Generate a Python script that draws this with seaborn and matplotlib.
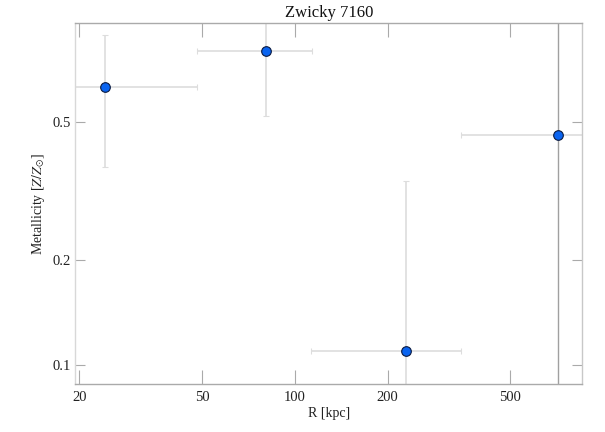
import numpy as np
import pandas as pd
import matplotlib
matplotlib.use("Agg")
import matplotlib.pyplot as plt
import seaborn as sns
from matplotlib.ticker import FixedLocator, FixedFormatter, NullLocator

# data
radius = [24.2, 80.8, 229.0, 716.0]
radius_err = [24.1, 32.7, 116.0, 370.0]
metallicity = [0.628, 0.798, 0.110, 0.458]
metallicity_err = [0.258, 0.278, 0.229, 0.55]

x_ticks = [20, 50, 100, 200, 500]
y_ticks = [0.1, 0.2, 0.5]

sns.set_style("white")
plt.rcParams['font.family'] = ['Liberation Serif', 'DejaVu Serif']
plt.rcParams['mathtext.fontset'] = 'stix'

df = pd.DataFrame({'R': radius, 'Z': metallicity,
                   'Rerr': radius_err, 'Zerr': metallicity_err})

fig = plt.figure(figsize=(6.05, 4.32), dpi=100)
ax = fig.add_axes([0.124, 0.1104, 0.8388, 0.8364])

# error bars (last point has a darker vertical bar in the reference)
eb = ax.errorbar(df['R'], df['Z'], xerr=df['Rerr'], yerr=None, fmt='none',
                 ecolor='#dddddd', elinewidth=1.2, capsize=2.5, capthick=0.8, zorder=1)
for c in eb[1]:
    c.set_color('#aaaaaa')
first = df.iloc[:3]
eb2 = ax.errorbar(first['R'], first['Z'], yerr=first['Zerr'], fmt='none',
                  ecolor='#dddddd', elinewidth=1.2, capsize=2.5, capthick=0.8, zorder=1)
for c in eb2[1]:
    c.set_color('#aaaaaa')
last = df.iloc[3:]
ax.errorbar(last['R'], last['Z'], yerr=last['Zerr'], fmt='none',
            ecolor='#a0a0a0', elinewidth=1.0, capsize=0, zorder=1)

sns.scatterplot(data=df, x='R', y='Z', ax=ax, s=48, color='#0a64f0',
                edgecolor='#0a1a40', linewidth=0.8, zorder=3)

ax.set_xscale('log')
ax.set_yscale('log')
ax.set_xlim(19.37, 857)
ax.set_ylim(0.0882, 0.96)

ax.xaxis.set_major_locator(FixedLocator(x_ticks))
ax.xaxis.set_major_formatter(FixedFormatter([str(t) for t in x_ticks]))
ax.xaxis.set_minor_locator(NullLocator())
ax.yaxis.set_major_locator(FixedLocator(y_ticks))
ax.yaxis.set_major_formatter(FixedFormatter([str(t) for t in y_ticks]))
ax.yaxis.set_minor_locator(NullLocator())

ax.tick_params(axis='x', direction='in', length=10, width=0.8, color='#aaaaaa',
               top=True, bottom=True, labelsize=10.5, pad=5, labelcolor='#222222')
ax.tick_params(axis='y', direction='in', length=7.5, width=0.8, color='#aaaaaa',
               left=True, right=True, labelsize=10.5, pad=3, labelcolor='#222222')

for side, col in [('left', '#d8d8d8'), ('right', '#c8c8c8'),
                  ('top', '#aaaaaa'), ('bottom', '#aaaaaa')]:
    ax.spines[side].set_visible(True)
    ax.spines[side].set_color(col)
    ax.spines[side].set_linewidth(1.0)

ax.set_title('Zwicky 7160', fontsize=12, pad=4, color='#111111')
ax.set_xlabel('R [kpc]', fontsize=10, labelpad=2, color='#222222')
ax.set_ylabel(r'Metallicity [$Z/Z_{\odot}$]', fontsize=10, labelpad=4, color='#222222')

fig.savefig('out.png', dpi=100)
